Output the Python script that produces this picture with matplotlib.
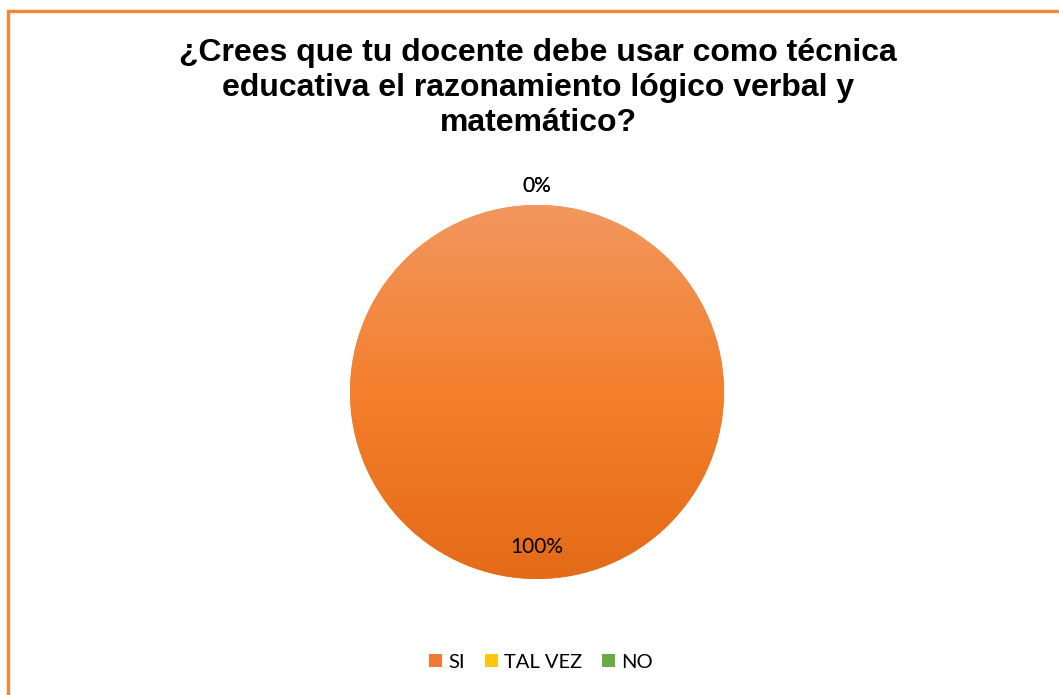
import numpy as np
import matplotlib
matplotlib.use("Agg")
import matplotlib.pyplot as plt
from matplotlib.patches import Patch, Rectangle
from matplotlib.colors import LinearSegmentedColormap

# Survey answers
categories = ["SI", "TAL VEZ", "NO"]
values = [100, 0, 0]
title = "¿Crees que tu docente debe usar como técnica\neducativa el razonamiento lógico verbal y\nmatemático?"

slice_top = ["#F2975F", "#FFD028", "#7DB956"]
slice_bottom = ["#E46B18", "#F2B800", "#5E9E35"]
legend_colors = ["#EE7A35", "#FFC513", "#6CAA45"]

W, H = 1059, 695
fig = plt.figure(figsize=(W / 100, H / 100), dpi=100)
fig.patch.set_facecolor("white")

# Frame around the chart area (right and bottom edges fall outside the canvas)
fig.patches.append(Rectangle((8 / W, -0.05), 1.2, 1 - 11 / H + 0.05,
                             transform=fig.transFigure, fill=False,
                             edgecolor="#F58634", linewidth=2.4, zorder=0))

fig.text(538 / W, 1 - 88 / H, title, ha="center", va="center",
         fontsize=23, fontweight="bold", family="Liberation Sans",
         linespacing=1.2, color="black")

cx, cy, r = 537, 392, 187
ax = fig.add_axes([(cx - r) / W, (H - cy - r) / H, 2 * r / W, 2 * r / H])
ax.set_xlim(-1, 1)
ax.set_ylim(-1, 1)
ax.set_aspect("equal")
ax.axis("off")

wedges, _ = ax.pie(values, startangle=90, counterclock=False, radius=1,
                   colors=legend_colors, wedgeprops=dict(linewidth=0))

# Vertical gradient fill (light at top, darker at bottom) clipped to each wedge
grad = np.linspace(0, 1, 256).reshape(-1, 1)
for w, top, bot in zip(wedges, slice_top, slice_bottom):
    if w.theta2 - w.theta1 <= 0:
        continue
    cmap = LinearSegmentedColormap.from_list("g", [top, "#F47F2C", bot])
    im = ax.imshow(grad, cmap=cmap, extent=[-1, 1, -1, 1], origin="upper",
                   aspect="auto", zorder=2)
    im.set_clip_path(w)
ax.set_xlim(-1, 1)
ax.set_ylim(-1, 1)

# Percentage labels at each slice's mid-angle
total = sum(values)
for w, v in zip(wedges, values):
    ang = np.deg2rad((w.theta1 + w.theta2) / 2)
    dist = 0.83 if v > 0 else 1.10
    ax.text(dist * np.cos(ang), dist * np.sin(ang), f"{v / total:.0%}",
            ha="center", va="center", fontsize=15, family="Lato",
            color="black", zorder=5)

handles = [Patch(facecolor=c, edgecolor="none") for c in legend_colors]
fig.legend(handles, categories, loc="center", bbox_to_anchor=(541 / W, 1 - 662 / H),
           ncol=3, frameon=False, prop=dict(family="Lato", size=14.5),
           handlelength=0.65, handleheight=0.65, handletextpad=0.3,
           columnspacing=1.0)

fig.savefig("out.png", dpi=100)
